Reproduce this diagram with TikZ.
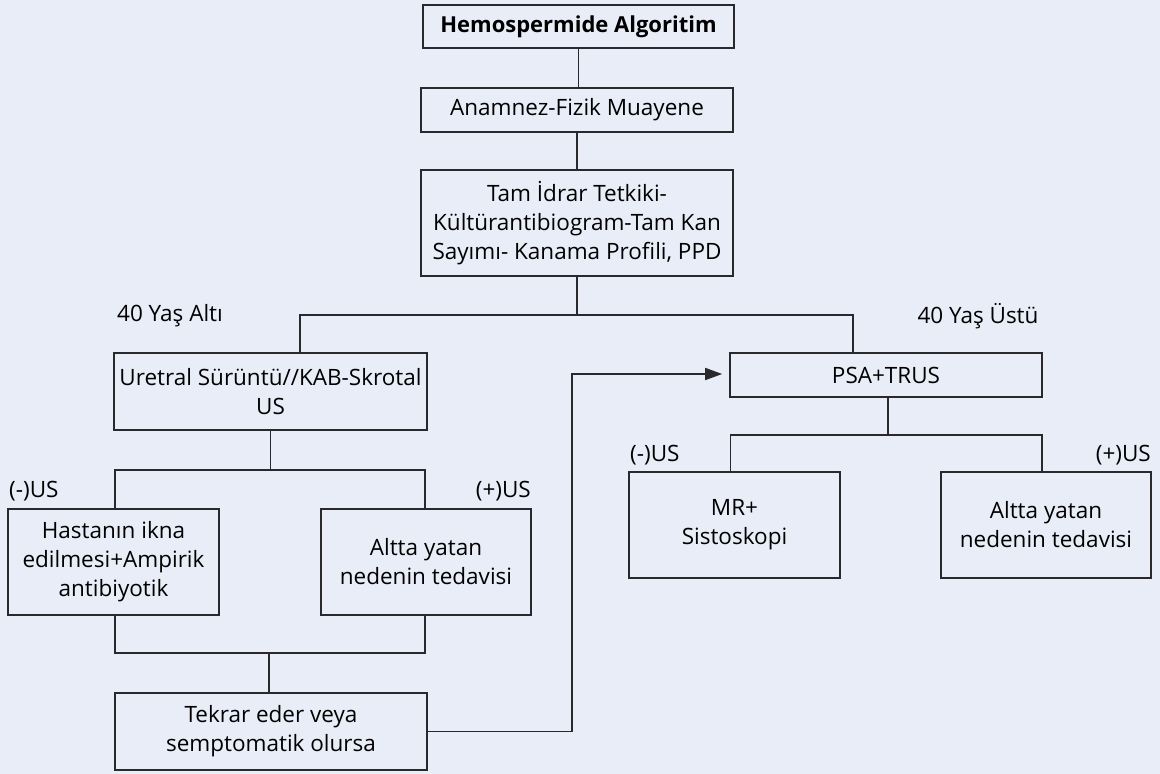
\documentclass[tikz,border=0pt]{standalone}
\usepackage{fontspec}
\setmainfont{Open Sans}
\usetikzlibrary{arrows.meta}
\definecolor{bgc}{RGB}{233,237,248}
\definecolor{lnc}{RGB}{40,40,45}
\begin{document}
\begin{tikzpicture}[x=1pt,y=-1pt,
  box/.style={draw=lnc,line width=1.6pt,rectangle,inner sep=0pt,align=center,
    font=\fontsize{22.5}{29}\selectfont,text=black},
  lab/.style={inner sep=0pt,font=\fontsize{22.5}{29}\selectfont,text=black},
  conn/.style={draw=lnc,line width=1.6pt}]
\fill[bgc] (0,0) rectangle (1160,774);
\useasboundingbox (0,0) rectangle (1160,774);
% nodes
\node[box,minimum width=311pt,minimum height=43pt,font=\fontsize{22}{29}\selectfont\bfseries] (title) at (578.5,26.5) {Hemospermide Algoritim};
\node[box,minimum width=312pt,minimum height=44pt] (anam) at (577,110) {Anamnez-Fizik Muayene};
\node[box,minimum width=312pt,minimum height=106pt] (tam) at (577,223) {Tam İdrar Tetkiki-\\Kültürantibiogram-Tam Kan\\Sayımı- Kanama Profili, PPD};
\node[box,minimum width=313pt,minimum height=77pt] (ure) at (270.5,391.5) {Uretral Sürüntü//KAB-Skrotal\\US};
\node[box,minimum width=211pt,minimum height=106pt] (hast) at (113.5,562) {Hastanın ikna\\edilmesi+Ampirik\\antibiyotik};
\node[box,minimum width=210pt,minimum height=106pt] (altL) at (426,562) {Altta yatan\\nedenin tedavisi};
\node[box,minimum width=312pt,minimum height=77pt] (tek) at (271,731.5) {Tekrar eder veya\\semptomatik olursa};
\node[box,minimum width=312pt,minimum height=44pt] (psa) at (886,375) {PSA+TRUS};
\node[box,minimum width=211pt,minimum height=106pt] (mr) at (734.5,525) {MR+\\Sistoskopi};
\node[box,minimum width=210pt,minimum height=106pt] (altR) at (1046,525) {Altta yatan\\nedenin tedavisi};
% labels
\node[lab] (l40a) at (170,316) {40 Yaş Altı};
\node[lab] (l40u) at (978,316) {40 Yaş Üstü};
\node[lab,anchor=west] (lm1) at (9,491) {(-)US};
\node[lab,anchor=east] (lp1) at (531,491) {(+)US};
\node[lab,anchor=west] (lm2) at (630,455) {(-)US};
\node[lab,anchor=east] (lp2) at (1151,455) {(+)US};
% helper coordinates
\coordinate (ya) at (300,315);
\coordinate (yb) at (853,315);
\coordinate (h1) at (0,470);
\coordinate (h2) at (0,653);
\coordinate (h3) at (0,435);
\coordinate (k) at (572,374);
% connectors
\draw[conn] (anam.north -| title.south) -- (title.south);
\draw[conn] (tam.north) -- (tam.north |- anam.south);
\draw[conn] (tam.south) -- (tam.south |- ya);
\draw[conn] (ure.north -| ya) -- (ya) -- (yb) -- (psa.north -| yb);
\draw[conn] (ure.south) -- (ure.south |- h1);
\draw[conn] ([xshift=1.5pt]hast.north) -- ([xshift=1.5pt]hast.north |- h1) -- ([xshift=-1pt]altL.north |- h1) -- ([xshift=-1pt]altL.north);
\draw[conn] ([xshift=1.5pt]hast.south) -- ([xshift=1.5pt]hast.south |- h2) -- ([xshift=-1pt]altL.south |- h2) -- ([xshift=-1pt]altL.south);
\draw[conn] ([xshift=-2pt]tek.north) -- ([xshift=-2pt]tek.north |- h2);
\draw[conn,-{Triangle[length=17pt,width=12pt]},shorten >=7pt] (tek.east) -| (k) -- (psa.west |- k);
\draw[conn] ([xshift=2pt]psa.south) -- ([xshift=2pt]psa.south |- h3);
\draw[conn] ([xshift=-4pt]mr.north) -- ([xshift=-4pt]mr.north |- h3) -- ([xshift=-4pt]altR.north |- h3) -- ([xshift=-4pt]altR.north);
\end{tikzpicture}
\end{document}
